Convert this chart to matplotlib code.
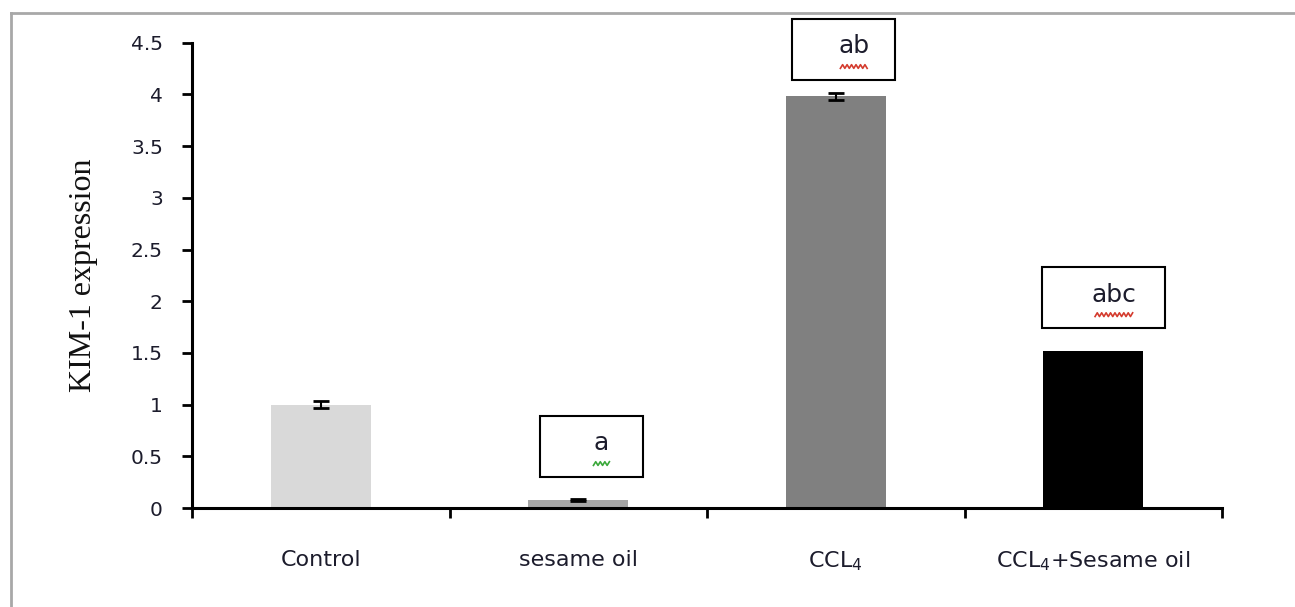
import matplotlib.pyplot as plt
from matplotlib.patches import Rectangle
from matplotlib.lines import Line2D

# data
groups = ["Control", "sesame oil", "CCL$_4$", "CCL$_4$+Sesame oil"]
values = [1.0, 0.08, 3.98, 1.52]
errors = [0.03, 0.01, 0.035, 0.0]
letters = [None, "a", "ab", "abc"]
colors = ["#d9d9d9", "#a6a6a6", "#808080", "#000000"]

fig = plt.figure(figsize=(12.95, 6.07), dpi=100)

# grey outer frame (open on the right and bottom, as in the picture)
fig.add_artist(Line2D([11 / 1295, 1.0], [1 - 13 / 607, 1 - 13 / 607],
                      transform=fig.transFigure, color="#a8a8a8", lw=2))
fig.add_artist(Line2D([11 / 1295, 11 / 1295], [0.0, 1 - 13 / 607],
                      transform=fig.transFigure, color="#a8a8a8", lw=2))

ax = fig.add_axes([192 / 1295, 1 - 508 / 607, (1222 - 192) / 1295, (508 - 42.7) / 607])

x = list(range(len(groups)))
ax.bar(x, values, width=0.39, color=colors, zorder=2)
ex = [i for i in x if errors[i] > 0]
ax.errorbar(ex, [values[i] for i in ex], yerr=[errors[i] for i in ex],
            fmt="none", ecolor="black", elinewidth=1.5, capsize=6,
            capthick=2, zorder=3)

ax.set_xlim(-0.5, 3.5)
ax.set_ylim(0, 4.5)
ax.set_yticks([0, 0.5, 1, 1.5, 2, 2.5, 3, 3.5, 4, 4.5])
ax.set_yticklabels(["0", "0.5", "1", "1.5", "2", "2.5", "3", "3.5", "4", "4.5"])
ax.set_xticks(x)
ax.set_xticklabels(groups, fontsize=16, color="#1c1c2c")
ax.set_xticks([-0.5, 0.5, 1.5, 2.5, 3.5], minor=True)
ax.tick_params(axis="x", which="major", length=0, pad=30)
ax.tick_params(axis="x", which="minor", length=7, width=2, direction="out")
ax.tick_params(axis="y", length=7, width=2, direction="out", pad=14,
               labelsize=14.5, labelcolor="#1c1c2c")

for side in ["top", "right"]:
    ax.spines[side].set_visible(False)
for side in ["left", "bottom"]:
    ax.spines[side].set_linewidth(2.2)

ax.set_ylabel("KIM-1 expression", family="Liberation Serif", fontsize=23,
              labelpad=24, color="#111111")

# significance letter boxes above bars
box_w = [0.0, 0.40, 0.40, 0.48]
box_dx = [0.0, 0.05, 0.03, 0.04]
box_gap = [0.0, 0.22, 0.16, 0.22]
box_h = 0.59
for i, lab in enumerate(letters):
    if lab is None:
        continue
    cx = i + box_dx[i]
    y0 = values[i] + box_gap[i]
    ax.add_patch(Rectangle((cx - box_w[i] / 2, y0), box_w[i], box_h,
                           fill=False, edgecolor="black", lw=1.5,
                           clip_on=False, zorder=4))
    ax.text(cx + 0.04, y0 + box_h * 0.55, lab, ha="center", va="center",
            fontsize=18, color="#1c1c2c", zorder=5)
    # spell-check squiggle under the letters
    wave_col = "#3aa83a" if lab == "a" else "#d43b2e"
    half = 0.021 * len(lab) + 0.01
    n = 5 * len(lab) + 3
    xs = [cx + 0.04 - half + 2 * half * k / (n - 1) for k in range(n)]
    ys = [y0 + box_h * 0.22 + (0.018 if k % 2 else -0.018) for k in range(n)]
    ax.plot(xs, ys, color=wave_col, lw=1.2, zorder=5, clip_on=False)

fig.savefig("out.png", dpi=100)
